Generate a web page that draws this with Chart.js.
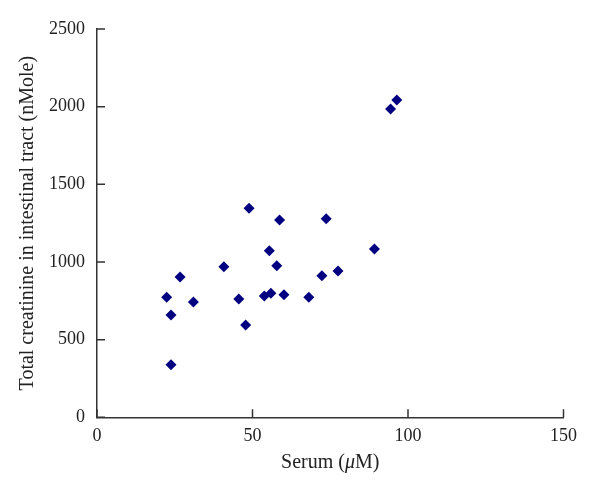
<!DOCTYPE html>
<html>
<head>
<meta charset="utf-8">
<script src="https://cdn.jsdelivr.net/npm/chart.js@4"></script>
<style>
  html, body { margin: 0; padding: 0; background: #fff; }
  #wrap { width: 600px; height: 497px; }
</style>
</head>
<body>
<div id="wrap"><canvas id="scatterChart"></canvas></div>
<script>
// valeurs
const serum = [22.4, 23.8, 23.8, 26.7, 31.0, 40.8, 45.6, 47.8, 48.9, 53.8, 55.9,
               55.4, 57.8, 58.7, 60.1, 68.1, 72.3, 73.7, 77.5, 89.2, 94.4, 96.4];
const creatinine = [773, 659, 339, 903, 742, 970, 762, 594, 1346, 781, 798,
                    1073, 976, 1270, 789, 773, 912, 1279, 942, 1084, 1985, 2043];
const xTicks = [0, 50, 100, 150];
const yTicks = [0, 500, 1000, 1500, 2000, 2500];

const axisColor = '#333333';
const pointColor = '#000080';
const fontFamily = '"Liberation Serif", "Times New Roman", serif';

// petits traits de graduation tournés vers l'intérieur
const innerTicks = {
    id: 'innerTicks',
    afterDraw(chart) {
        const ctx = chart.ctx;
        const x = chart.scales.x, y = chart.scales.y;
        ctx.save();
        ctx.strokeStyle = axisColor;
        ctx.lineWidth = 1.5;
        ctx.beginPath();
        xTicks.forEach(v => {
            const px = x.getPixelForValue(v);
            ctx.moveTo(px, y.bottom);
            ctx.lineTo(px, y.bottom - 8);
        });
        yTicks.forEach(v => {
            const py = y.getPixelForValue(v);
            ctx.moveTo(x.left, py);
            ctx.lineTo(x.left + 8, py);
        });
        ctx.stroke();

        // titre de l'axe x avec le mu en italique
        ctx.fillStyle = '#222';
        ctx.textBaseline = 'middle';
        const parts = [['Serum (', 'normal'], ['\u03bc', 'italic'], ['M)', 'normal']];
        let total = 0;
        parts.forEach(p => {
            ctx.font = p[1] + ' 20px ' + fontFamily;
            total += ctx.measureText(p[0]).width;
        });
        let cx = (x.left + x.right) / 2 - total / 2;
        parts.forEach(p => {
            ctx.font = p[1] + ' 20px ' + fontFamily;
            ctx.fillText(p[0], cx, 463);
            cx += ctx.measureText(p[0]).width;
        });
        ctx.restore();
    }
};

new Chart(document.getElementById('scatterChart'), {
    type: 'scatter',
    data: {
        datasets: [{
            data: serum.map((v, i) => ({ x: v, y: creatinine[i] })),
            pointStyle: 'rectRot',
            pointRadius: 5.5,
            pointHoverRadius: 5.5,
            backgroundColor: pointColor,
            borderColor: pointColor,
            borderWidth: 0
        }]
    },
    options: {
        responsive: true,
        maintainAspectRatio: false,
        animation: false,
        events: [],
        layout: { padding: { left: 0, right: 36.5, top: 29, bottom: 0 } },
        plugins: {
            legend: { display: false },
            tooltip: { enabled: false }
        },
        scales: {
            x: {
                type: 'linear',
                min: 0,
                max: 150,
                afterBuildTicks: s => { s.ticks = xTicks.map(v => ({ value: v })); },
                afterFit: s => { s.height = 79.7; },
                grid: { drawOnChartArea: false, drawTicks: false },
                border: { display: true, color: axisColor, width: 1.5 },
                ticks: {
                    color: '#222', padding: 8,
                    font: { family: fontFamily, size: 18 },
                    callback: v => String(v)
                }
            },
            y: {
                min: 0,
                max: 2500,
                afterBuildTicks: s => { s.ticks = yTicks.map(v => ({ value: v })); },
                afterFit: s => { s.width = 97; },
                grid: { drawOnChartArea: false, drawTicks: false },
                border: { display: true, color: axisColor, width: 1.5 },
                ticks: {
                    color: '#222', padding: 12,
                    font: { family: fontFamily, size: 18 },
                    callback: v => String(v)
                },
                title: {
                    display: true,
                    text: 'Total creatinine in intestinal tract (nMole)',
                    color: '#222',
                    padding: { top: 16, bottom: 0 },
                    font: { family: fontFamily, size: 20 }
                }
            }
        }
    },
    plugins: [innerTicks]
});
</script>
</body>
</html>
